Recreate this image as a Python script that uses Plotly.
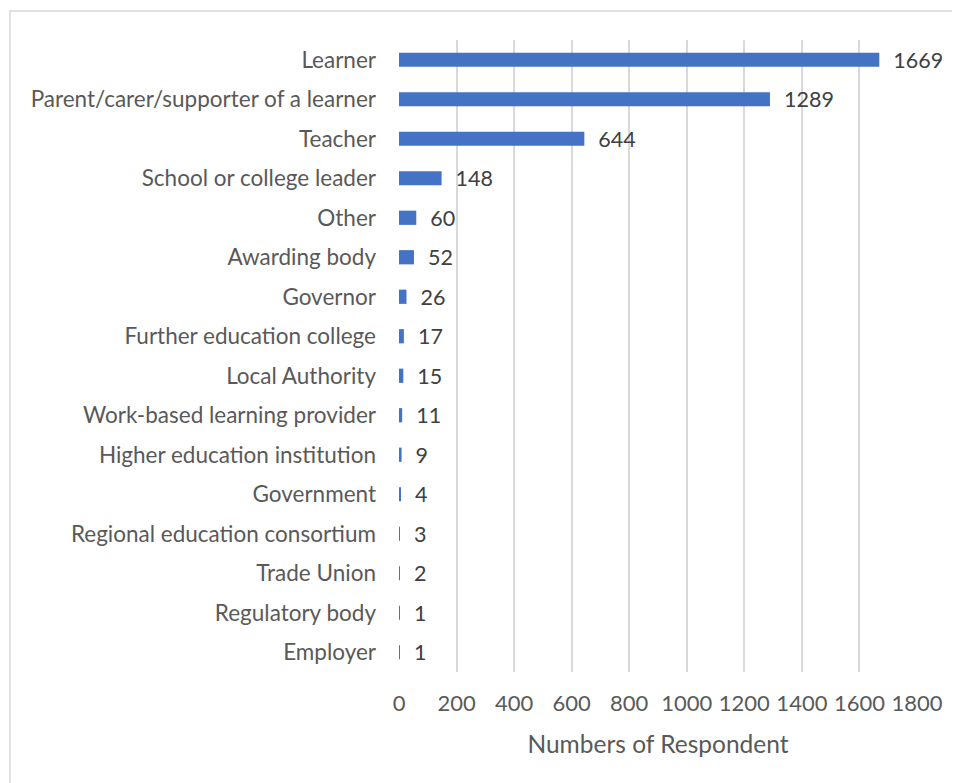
import plotly.graph_objects as go

categories = ["Learner", "Parent/carer/supporter of a learner", "Teacher",
              "School or college leader", "Other", "Awarding body", "Governor",
              "Further education college", "Local Authority",
              "Work-based learning provider", "Higher education institution",
              "Government", "Regional education consortium", "Trade Union",
              "Regulatory body", "Employer"]
values = [1669, 1289, 644, 148, 60, 52, 26, 17, 15, 11, 9, 4, 3, 2, 1, 1]
x_ticks = [0, 200, 400, 600, 800, 1000, 1200, 1400, 1600, 1800]

# page body has an 8px default margin, so the figure sits at (8, 8)
OFF = 8
W, H = 960 - OFF, 783 - OFF
PL, PR, PT, PB = 399, 917, 40, 672.5   # plot area in page pixels
L, R, T, B = PL - OFF, (OFF + W) - PR, PT - OFF, (OFF + H) - PB
pw, ph = W - L - R, H - T - B

FONT = "Lato, Carlito, Calibri, sans-serif"

fig = go.Figure(go.Bar(
    y=categories, x=values, orientation="h",
    marker=dict(color="#4472C4", line=dict(width=0)),
    text=[str(v) for v in values], texttemplate="\u00a0\u00a0%{text}",
    textposition="outside",
    constraintext="none",
    textfont=dict(family=FONT, size=21.5, color="#404040"),
    cliponaxis=False,
))

fig.update_layout(
    width=W, height=H,
    margin=dict(l=L, r=R, t=T, b=B),
    paper_bgcolor="white", plot_bgcolor="white",
    bargap=0.64,
    showlegend=False,
    font=dict(family=FONT, size=22, color="#595959"),
    xaxis=dict(range=[0, 1800], tickvals=x_ticks, showgrid=True,
               gridcolor="#D9D9D9", gridwidth=1.5, zeroline=False,
               showline=False, ticks="", ticklabelstandoff=16,
               tickfont=dict(size=22, color="#595959"),
               title=dict(text="Numbers of Respondent", standoff=20,
                          font=dict(size=24.5, color="#595959"))),
    yaxis=dict(autorange="reversed", showgrid=False, zeroline=False,
               showline=False, ticks="", ticklabelstandoff=22,
               tickfont=dict(size=22.5, color="#595959")),
    shapes=[dict(type="rect", xref="paper", yref="paper",
                 x0=(10 - PL) / pw, x1=(980 - PL) / pw,
                 y0=(PB - 800) / ph, y1=(PB - 11) / ph,
                 line=dict(color="#D9D9D9", width=1.5), fillcolor="rgba(0,0,0,0)",
                 layer="below")],
)

fig.write_html("out.html")
